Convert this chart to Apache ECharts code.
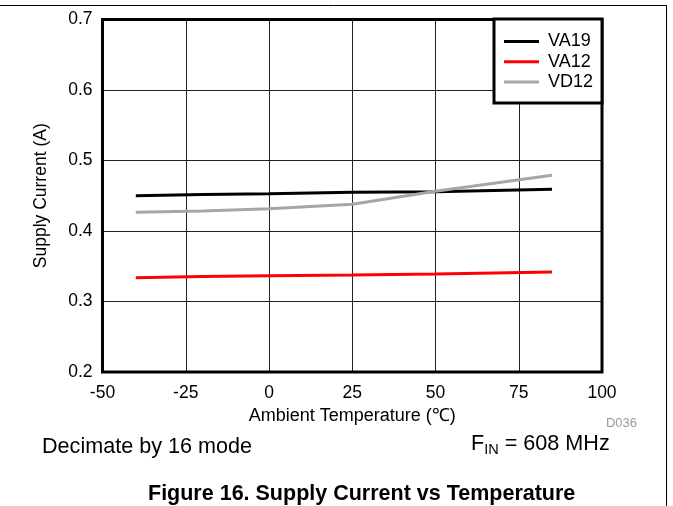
<!DOCTYPE html>
<html>
<head>
<meta charset="utf-8">
<script src="https://cdn.jsdelivr.net/npm/echarts@6/dist/echarts.min.js"></script>
<style>
  html, body { margin: 0; padding: 0; background: #fff; }
  #chart { width: 673px; height: 506px; }
</style>
</head>
<body>
<div id="chart"></div>
<script>
// temperatures (°C) and supply currents (A)
const temps = [-40, -20, 0, 25, 50, 85];
const va19 = [0.450, 0.4518, 0.4529, 0.4549, 0.4557, 0.4591];
const va12 = [0.3338, 0.3354, 0.3366, 0.3376, 0.3390, 0.3418];
const vd12 = [0.4265, 0.4282, 0.4316, 0.4379, 0.4563, 0.4790];
const seriesNames = ['VA19', 'VA12', 'VD12'];
const seriesColors = ['#000000', '#ff0000', '#a6a6a6'];

const font = 'Liberation Sans, Arial, sans-serif';

function pairs(ys) {
  return temps.map((t, i) => [t, ys[i]]);
}

const chart = echarts.init(document.getElementById('chart'));

chart.setOption({
  animation: false,
  textStyle: { fontFamily: font },
  grid: {
    left: 102.5,
    right: 71,
    top: 19.5,
    bottom: 134,
    show: true,
    borderColor: '#000',
    borderWidth: 3,
    z: 3
  },
  xAxis: {
    type: 'value',
    min: -50,
    max: 100,
    interval: 25,
    name: 'Ambient Temperature (℃)',
    nameLocation: 'middle',
    nameGap: 33,
    nameTextStyle: { fontSize: 18, color: '#000', fontFamily: font },
    axisLine: { show: false },
    axisTick: { show: false },
    axisLabel: { fontSize: 17.5, color: '#000', margin: 12, fontFamily: font },
    splitLine: { show: true, lineStyle: { color: '#222', width: 1 } }
  },
  yAxis: {
    type: 'value',
    min: 0.2,
    max: 0.7,
    interval: 0.1,
    name: 'Supply Current (A)',
    nameLocation: 'middle',
    nameGap: 52,
    nameTextStyle: { fontSize: 17.5, color: '#000', fontFamily: font },
    axisLine: { show: false },
    axisTick: { show: false },
    axisLabel: {
      fontSize: 17.5,
      color: '#000',
      margin: 10,
      fontFamily: font,
      formatter: v => v.toFixed(1)
    },
    splitLine: { show: true, lineStyle: { color: '#222', width: 1 } }
  },
  legend: {
    data: seriesNames,
    orient: 'vertical',
    left: 494,
    top: 19,
    padding: [13.5, 9, 12, 10],
    icon: 'rect',
    itemWidth: 35,
    itemHeight: 3,
    itemGap: 2.3,
    backgroundColor: '#fff',
    borderColor: '#000',
    borderWidth: 3,
    borderRadius: 0,
    textStyle: { fontSize: 18, color: '#000', fontFamily: font, padding: [0, 0, 0, 4] }
  },
  series: [va19, va12, vd12].map((ys, i) => ({
    name: seriesNames[i],
    type: 'line',
    data: pairs(ys),
    symbol: 'none',
    color: seriesColors[i],
    lineStyle: { color: seriesColors[i], width: 3 },
    z: 5
  })),
  graphic: [
    // page frame (top and right rules)
    { type: 'line', shape: { x1: 0, y1: 5.5, x2: 667, y2: 5.5 }, style: { stroke: '#000', lineWidth: 1 } },
    { type: 'line', shape: { x1: 666.5, y1: 5, x2: 666.5, y2: 506 }, style: { stroke: '#000', lineWidth: 1 } },
    {
      type: 'text', right: 673 - 637, top: 417,
      style: { text: 'D036', fontSize: 13, fill: '#999', fontFamily: font }
    },
    {
      type: 'text', left: 42, top: 436,
      style: { text: 'Decimate by 16 mode', fontSize: 21.6, fill: '#000', fontFamily: font }
    },
    {
      type: 'text', left: 471, top: 433,
      style: {
        text: 'F{sub|IN} = 608 MHz',
        fontSize: 21.6,
        fill: '#000',
        fontFamily: font,
        rich: {
          sub: { fontSize: 14.5, fontFamily: font, fill: '#000', padding: [12, 0, 0, 0] }
        }
      }
    },
    {
      type: 'text', left: 148, top: 483,
      style: {
        text: 'Figure 16. Supply Current vs Temperature',
        fontSize: 21.5,
        fontWeight: 'bold',
        fill: '#000',
        fontFamily: font
      }
    }
  ]
});
</script>
</body>
</html>
